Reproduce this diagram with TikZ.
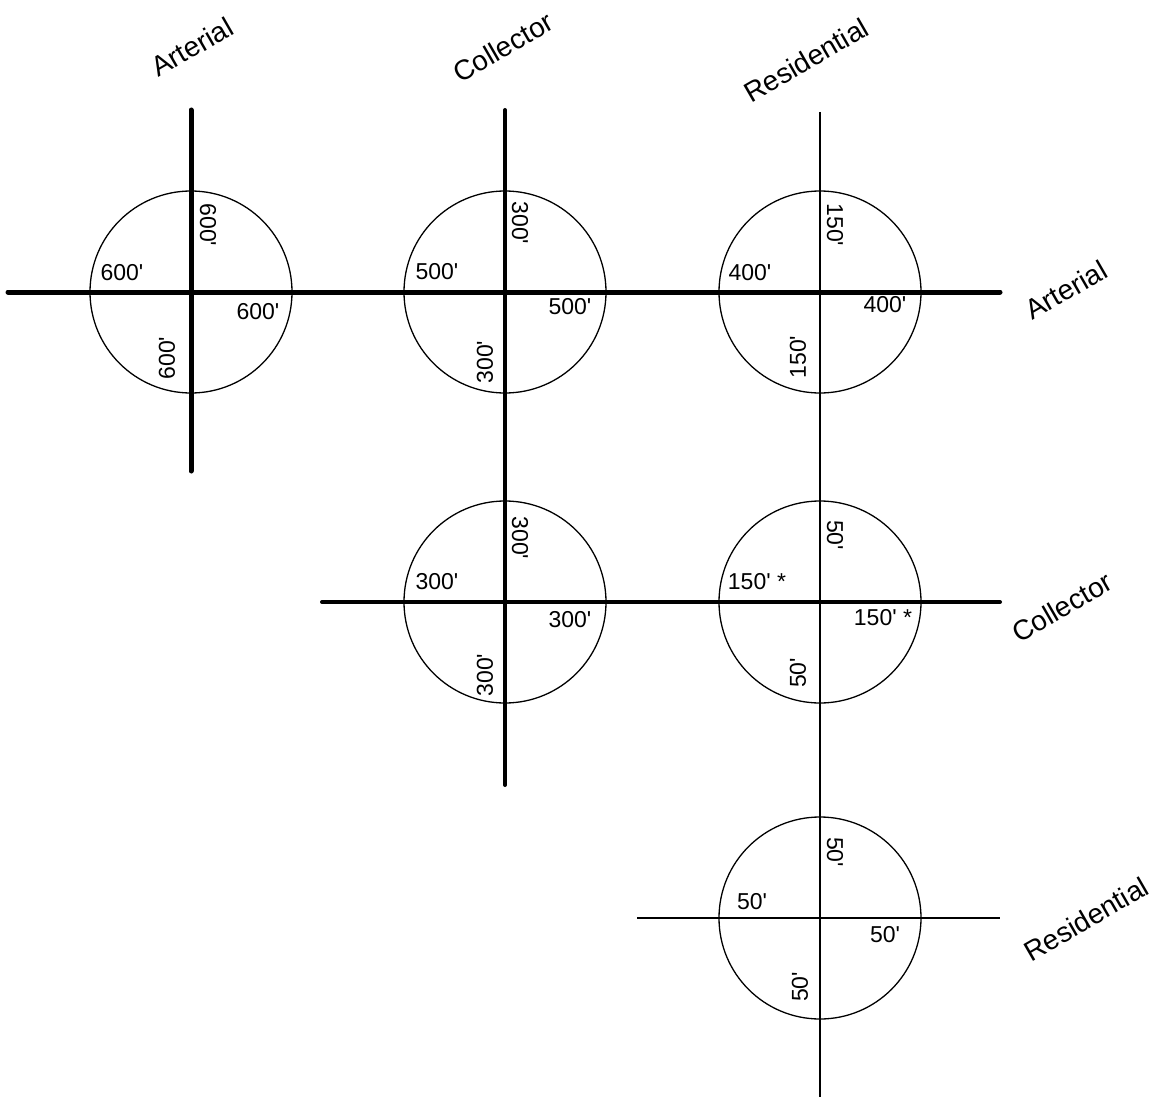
\documentclass[tikz,border=0pt]{standalone}
\usepackage{fontspec}
\setmainfont{Liberation Sans}
\newcommand\ft{\textquotesingle}
\begin{document}
\begin{tikzpicture}[x=1pt,y=-1pt,
  art/.style={line width=5pt,line cap=round},
  col/.style={line width=4pt,line cap=round},
  res/.style={line width=1.8pt},
  ring/.style={draw,circle,line width=1.3pt,minimum size=202pt,inner sep=0pt},
  num/.style={inner sep=0pt,font=\fontsize{23}{26}\selectfont},
  numup/.style={num,rotate=-90},
  numdn/.style={num,rotate=90},
  road/.style={inner sep=0pt,rotate=30,font=\fontsize{28}{32}\selectfont}]
\useasboundingbox (0,0) rectangle (1160,1097);
% road line end points
\coordinate (va1) at (191,110); \coordinate (va2) at (191,471);
\coordinate (vc1) at (505,110); \coordinate (vc2) at (505,785);
\coordinate (vr1) at (820,112); \coordinate (vr2) at (820,1097);
\coordinate (ha1) at (8,292);   \coordinate (ha2) at (1000,292);
\coordinate (hc1) at (322,602); \coordinate (hc2) at (1000,602);
\coordinate (hr1) at (637,918); \coordinate (hr2) at (1000,918);
% circles
\node[ring] (c11) at (191,292) {};
\node[ring] (c12) at (505,292) {};
\node[ring] (c13) at (820,292) {};
\node[ring] (c22) at (505,602) {};
\node[ring] (c23) at (820,602) {};
\node[ring] (c33) at (820,918) {};
% roads
\draw[art] (va1) -- (va2);
\draw[col] (vc1) -- (vc2);
\draw[res] (vr1) -- (vr2);
\draw[art] (ha1) -- (ha2);
\draw[col] (hc1) -- (hc2);
\draw[res] (hr1) -- (hr2);
% road names
\node[road] (tA) at (192,47) {Arterial};
\node[road] (tC) at (503,47) {Collector};
\node[road] (tR) at (806,60) {Residential};
\node[road] (rA) at (1066,290) {Arterial};
\node[road] (rC) at (1062,607) {Collector};
\node[road] (rR) at (1086,919) {Residential};
% circle 1
\node[numup] (n11u) at (208,225) {600\ft};
\node[num]   (n11l) at (122,273) {600\ft};
\node[num]   (n11r) at (258,312) {600\ft};
\node[numdn] (n11d) at (167,358) {600\ft};
% circle 2
\node[numup] (n12u) at (520,223) {300\ft};
\node[num]   (n12l) at (437,272) {500\ft};
\node[num]   (n12r) at (570,307) {500\ft};
\node[numdn] (n12d) at (485,362) {300\ft};
% circle 3
\node[numup] (n13u) at (835,225) {150\ft};
\node[num]   (n13l) at (750,273) {400\ft};
\node[num]   (n13r) at (885,305) {400\ft};
\node[numdn] (n13d) at (798,357) {150\ft};
% circle 4
\node[numup] (n22u) at (520,538) {300\ft};
\node[num]   (n22l) at (437,582) {300\ft};
\node[num]   (n22r) at (570,620) {300\ft};
\node[numdn] (n22d) at (485,675) {300\ft};
% circle 5
\node[numup] (n23u) at (835,535) {50\ft};
\node[num]   (n23l) at (757,582) {150\ft{} *};
\node[num]   (n23r) at (883,618) {150\ft{} *};
\node[numdn] (n23d) at (798,673) {50\ft};
% circle 6
\node[numup] (n33u) at (835,852) {50\ft};
\node[num]   (n33l) at (752,902) {50\ft};
\node[num]   (n33r) at (885,935) {50\ft};
\node[numdn] (n33d) at (800,987) {50\ft};
\end{tikzpicture}
\end{document}
